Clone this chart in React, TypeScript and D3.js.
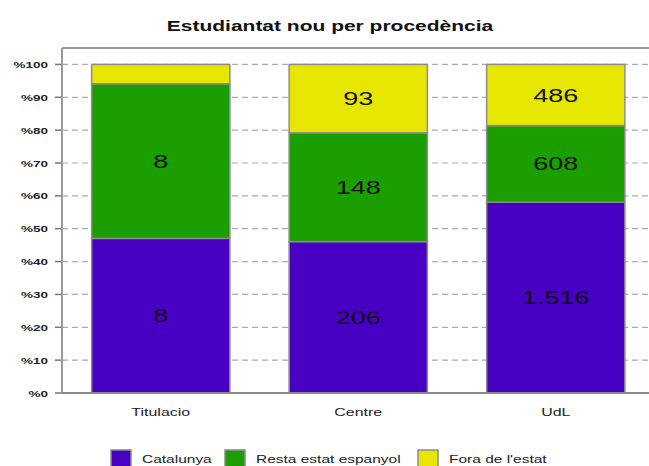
import React from "react";
import * as d3 from "d3";

const categories = ["Titulacio", "Centre", "UdL"];
const seriesNames = ["Catalunya", "Resta estat espanyol", "Fora de l'estat"];
const catalunya = [8, 206, 1516];
const restaEstat = [8, 148, 608];
const foraEstat = [1, 93, 486];
const yTicks = [0, 10, 20, 30, 40, 50, 60, 70, 80, 90, 100];
const colors = ["#4800c2", "#1a9e00", "#e6e600"];

const W = 649;
const H = 466;
const plot = { left: 62, top: 48, bottom: 393, right: 654.5 };

const locale = d3.formatLocale({ decimal: ",", thousands: ".", grouping: [3], currency: ["", "€"] });
const fmt = locale.format(",d");

export default function App() {
  const rows = categories.map((c, i) => ({
    cat: c,
    [seriesNames[0]]: catalunya[i],
    [seriesNames[1]]: restaEstat[i],
    [seriesNames[2]]: foraEstat[i],
  }));
  const stack = d3.stack<any>().keys(seriesNames).offset(d3.stackOffsetExpand);
  const layers = stack(rows);

  const x = d3.scaleBand<string>().domain(categories).range([plot.left, plot.right]).paddingInner(0.3).paddingOuter(0.15);
  const y = d3.scaleLinear().domain([0, 1.05]).range([plot.bottom, plot.top]);

  const font = "Arial, 'Liberation Sans', sans-serif";
  const legendX = [111, 225, 418];

  return (
    <svg width={W} height={H} style={{ position: "absolute", left: 0, top: 0, background: "#fff" }} fontFamily={font}>
      <text transform={`translate(330,31) scale(1.4,1)`} textAnchor="middle" fontSize={15} fontWeight="bold" fill="#111">
        Estudiantat nou per procedència
      </text>
      {/* grid */}
      {yTicks.slice(1).map((t) => (
        <line key={"g" + t} x1={plot.left} x2={W} y1={y(t / 100)} y2={y(t / 100)} stroke="#aaa" strokeWidth={1.2} strokeDasharray="6,4" />
      ))}
      {/* ticks and labels */}
      {yTicks.map((t) => (
        <g key={"t" + t}>
          <line x1={55} x2={plot.left} y1={y(t / 100)} y2={y(t / 100)} stroke="#777" strokeWidth={1.5} />
          <text transform={`translate(48,${y(t / 100) + 3.5}) scale(1.5,1)`} textAnchor="end" fontSize={9} fontWeight="bold" fill="#222">
            {"%" + t}
          </text>
        </g>
      ))}
      {/* bars */}
      {layers.map((layer, li) => (
        <g key={layer.key}>
          {layer.map((d, i) => (
            <rect
              key={i}
              x={x(categories[i])}
              width={x.bandwidth()}
              y={y(d[1])}
              height={y(d[0]) - y(d[1])}
              fill={colors[li]}
              stroke="#8c8c8c"
              strokeWidth={1.5}
            />
          ))}
        </g>
      ))}
      {layers.map((layer, li) => (
        <g key={"l" + layer.key}>
          {layer.map((d, i) => {
            const h = y(d[0]) - y(d[1]);
            if (h < 25) return null;
            const cx = (x(categories[i]) as number) + x.bandwidth() / 2;
            const cy = (y(d[0]) + y(d[1])) / 2;
            return (
              <text key={i} transform={`translate(${cx},${cy + 6.5}) scale(1.5,1)`} textAnchor="middle" fontSize={18} fill="#111">
                {fmt((d.data as any)[layer.key])}
              </text>
            );
          })}
        </g>
      ))}
      {/* frame */}
      <line x1={plot.left} x2={W + 5} y1={plot.top} y2={plot.top} stroke="#999" strokeWidth={2} />
      <line x1={plot.left} x2={plot.left} y1={plot.top} y2={plot.bottom} stroke="#999" strokeWidth={2} />
      <line x1={plot.left} x2={W + 5} y1={plot.bottom} y2={plot.bottom} stroke="#888" strokeWidth={2} />
      {/* category labels */}
      {categories.map((c) => (
        <text key={c} transform={`translate(${(x(c) as number) + x.bandwidth() / 2},416) scale(1.45,1)`} textAnchor="middle" fontSize={11} fill="#222">
          {c}
        </text>
      ))}
      {/* legend */}
      {seriesNames.map((s, i) => (
        <g key={s}>
          <rect x={legendX[i]} y={450} width={20} height={18} fill={colors[i]} stroke="#8c8c8c" strokeWidth={1.5} />
          <text transform={`translate(${legendX[i] + 31},463) scale(1.55,1)`} fontSize={10} fill="#222">
            {s}
          </text>
        </g>
      ))}
    </svg>
  );
}
